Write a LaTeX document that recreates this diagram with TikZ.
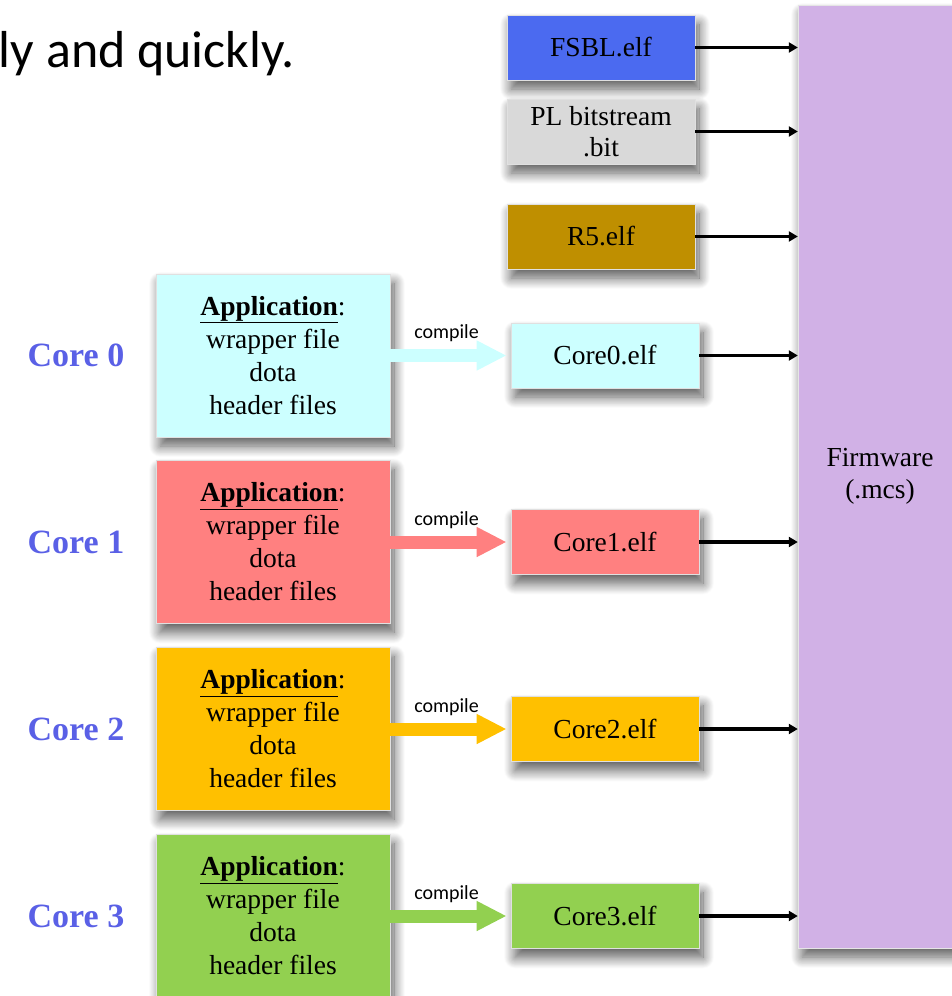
\documentclass[tikz,border=0pt]{standalone}
\usepackage{fontspec}
\setmainfont{Liberation Serif}
\newfontfamily\timesfont{Liberation Serif}
\newfontfamily\calibri{Carlito}
\usetikzlibrary{arrows.meta,shadows.blur,calc}

\definecolor{fsblblue}{RGB}{75,106,240}
\definecolor{plgray}{RGB}{217,217,217}
\definecolor{rfivegold}{RGB}{191,143,0}
\definecolor{fwlilac}{RGB}{209,177,230}
\definecolor{cyanbox}{RGB}{204,255,255}
\definecolor{redbox}{RGB}{255,128,128}
\definecolor{orangebox}{RGB}{255,192,0}
\definecolor{greenbox}{RGB}{146,208,80}
\definecolor{corelabel}{RGB}{90,96,230}

\tikzset{
  x=1pt, y=-1pt,
  shadowed/.style={blur shadow={shadow xshift=4pt, shadow yshift=-9pt,
      shadow blur radius=11pt, shadow blur steps=16, shadow opacity=65}},
  filebox/.style={shadowed, draw=black!12, line width=0.8pt, inner sep=0pt,
      minimum width=188pt, minimum height=65pt, align=center,
      font=\timesfont\fontsize{27.5}{31}\selectfont},
  appbox/.style={shadowed, draw=black!12, line width=0.8pt, inner sep=0pt,
      minimum width=234pt, minimum height=163pt, align=center,
      font=\timesfont\fontsize{27.5}{33}\selectfont},
  corename/.style={text=corelabel, font=\timesfont\fontsize{34}{36}\selectfont\bfseries},
  feed/.style={-{Triangle[length=9pt,width=10pt]}, line width=3.2pt, black},
  compilearrow/.style={line width=13pt, -{Triangle[length=30pt,width=28pt]}},
  compilelabel/.style={font=\calibri\fontsize{20}{22}\selectfont, above=10pt}
}

\newcommand{\apptext}{\textbf{\underline{Application}}:\\wrapper file\\dota\\header files}

\begin{document}
\begin{tikzpicture}
\useasboundingbox (0,0) rectangle (952,996);

% heading line running in from the left
\node[anchor=base east, inner sep=0pt, font=\calibri\fontsize{52}{58}\selectfont]
  (heading) at (295,67) {ly and quickly.};

% firmware image
\node[shadowed, fill=fwlilac, draw=black!10, inner sep=0pt, minimum width=164pt,
      minimum height=943pt, align=center, font=\timesfont\fontsize{27.5}{32}\selectfont]
  (fw) at (880,476.5) {Firmware\\(.mcs)};

% fixed inputs
\node[filebox, fill=fsblblue]  (fsbl) at (601,47.5)  {FSBL.elf};
\node[filebox, fill=plgray]    (pl)   at (601,131.5) {PL bitstream\\.bit};
\node[filebox, fill=rfivegold] (rfive) at (601,236.5) {R5.elf};

% per-core applications and their executables
\foreach \i/\cy/\col in {0/355.5/cyanbox, 1/542/redbox, 2/729/orangebox, 3/916/greenbox}{
  \node[corename] (lbl\i) at (76,\cy) {Core \i};
  \node[appbox, fill=\col] (app\i) at (273,\cy) {\apptext};
  \node[filebox, fill=\col] (elf\i) at (605,\cy) {Core\i.elf};
  \draw[compilearrow, \col] (app\i.east) -- ([xshift=-4pt]elf\i.west);
  \node[compilelabel] (cmp\i) at ($(app\i.east)!0.5!(elf\i.west)+(-4,0)$) {compile};
}

% everything is packed into the firmware image
\foreach \n in {fsbl, pl, rfive, elf0, elf1, elf2, elf3}{
  \draw[feed] (\n.east) -- (\n.east -| fw.west);
}
\end{tikzpicture}
\end{document}
